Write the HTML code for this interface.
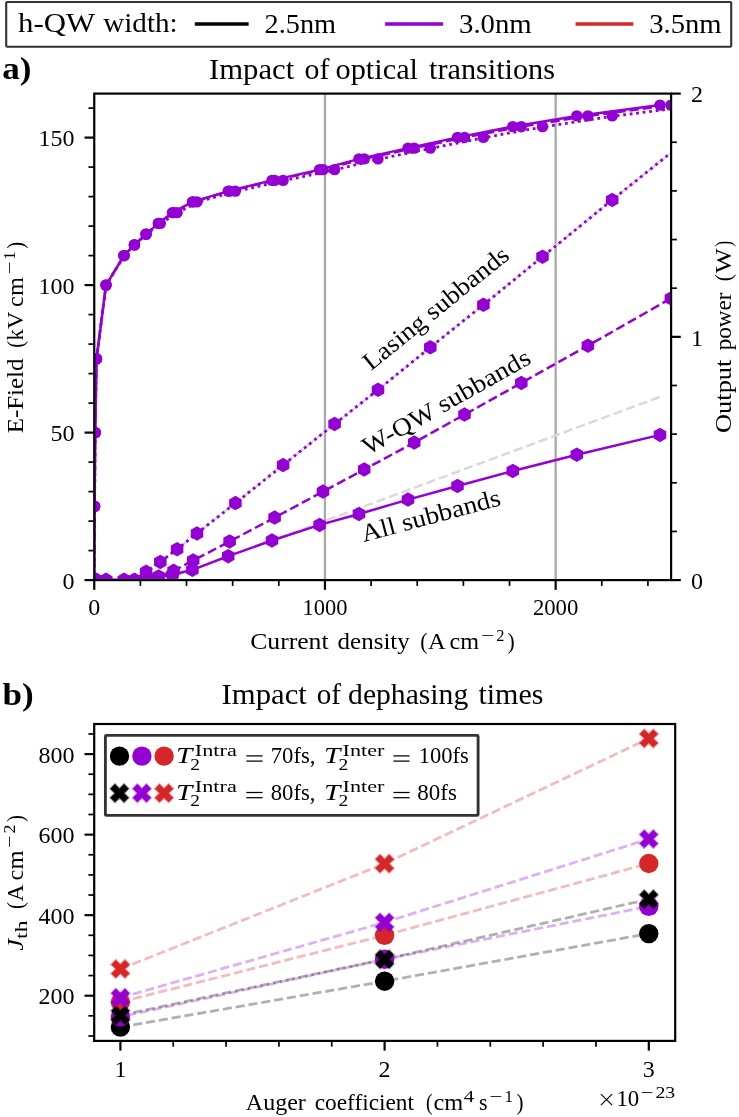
<!DOCTYPE html>
<html><head><meta charset="utf-8"><title>chart</title>
<style>html,body{margin:0;padding:0;background:#fff;}svg{display:block;will-change:transform;}</style></head>
<body>
<svg width="739" height="1117" viewBox="0 0 739 1117" font-family="Liberation Serif, serif" fill="#000">
<rect width="739" height="1117" fill="#fff"/>
<defs><clipPath id="ca"><rect x="94.25" y="93.6" width="576.85" height="486.5"/></clipPath>
</defs>
<rect x="6.2" y="2.0" width="725.0" height="44.8" rx="1" fill="#fff" stroke="#333" stroke-width="2.1"/>
<text x="18.0" y="31.6" font-size="27.5" font-style="normal" font-weight="normal" textLength="77.0" lengthAdjust="spacingAndGlyphs">h-QW</text>
<text x="103.3" y="31.6" font-size="27.5" font-style="normal" font-weight="normal" textLength="74.3" lengthAdjust="spacingAndGlyphs">width:</text>
<line x1="194.8" y1="24.1" x2="248.6" y2="24.1" stroke="#000" stroke-width="3.5"/>
<text x="264.6" y="32.8" font-size="26.5" font-style="normal" font-weight="normal" textLength="71.5" lengthAdjust="spacingAndGlyphs">2.5nm</text>
<line x1="385.1" y1="24.1" x2="443.1" y2="24.1" stroke="#9400d3" stroke-width="3.5"/>
<text x="459.0" y="32.8" font-size="26.5" font-style="normal" font-weight="normal" textLength="72.7" lengthAdjust="spacingAndGlyphs">3.0nm</text>
<line x1="575.6" y1="24.1" x2="633.4" y2="24.1" stroke="#d62728" stroke-width="3.5"/>
<text x="649.3" y="32.8" font-size="26.5" font-style="normal" font-weight="normal" textLength="72.3" lengthAdjust="spacingAndGlyphs">3.5nm</text>
<text x="2.2" y="78.9" font-size="31" font-style="normal" font-weight="bold" textLength="29.2" lengthAdjust="spacingAndGlyphs">a)</text>
<text x="2.6" y="705.0" font-size="31" font-style="normal" font-weight="bold" textLength="31.2" lengthAdjust="spacingAndGlyphs">b)</text>
<text x="209.0" y="78.6" font-size="28.5" font-style="normal" font-weight="normal" textLength="85.2" lengthAdjust="spacingAndGlyphs">Impact</text>
<text x="304.6" y="78.6" font-size="28.5" font-style="normal" font-weight="normal" textLength="24.9" lengthAdjust="spacingAndGlyphs">of</text>
<text x="335.6" y="78.6" font-size="28.5" font-style="normal" font-weight="normal" textLength="82.4" lengthAdjust="spacingAndGlyphs">optical</text>
<text x="429.0" y="78.6" font-size="28.5" font-style="normal" font-weight="normal" textLength="126.0" lengthAdjust="spacingAndGlyphs">transitions</text>
<text x="221.6" y="703.7" font-size="28.5" font-style="normal" font-weight="normal" textLength="85.2" lengthAdjust="spacingAndGlyphs">Impact</text>
<text x="316.8" y="703.7" font-size="28.5" font-style="normal" font-weight="normal" textLength="24.2" lengthAdjust="spacingAndGlyphs">of</text>
<text x="348.1" y="703.7" font-size="28.5" font-style="normal" font-weight="normal" textLength="120.1" lengthAdjust="spacingAndGlyphs">dephasing</text>
<text x="478.4" y="703.7" font-size="28.5" font-style="normal" font-weight="normal" textLength="65.0" lengthAdjust="spacingAndGlyphs">times</text>
<g clip-path="url(#ca)">
<line x1="324.95" y1="93.6" x2="324.95" y2="580.1" stroke="#a9a9a9" stroke-width="2.3"/>
<line x1="555.65" y1="93.6" x2="555.65" y2="580.1" stroke="#a9a9a9" stroke-width="2.3"/>
<line x1="164.5" y1="580.1" x2="660.8" y2="396.6" stroke="#d9d9d9" stroke-width="2.5" stroke-dasharray="9.3 4"/>
<polyline points="160.3,561.9 177.1,549.2 197.0,533.4 235.4,503.1 283.1,465.1 334.6,424.0 378.0,389.8 430.3,347.3 483.4,304.8 542.5,256.7 612.2,199.9 698.0,131.0" fill="none" stroke="#d9d9d9" stroke-width="2.5" stroke-dasharray="9.3 4" stroke-linejoin="round"/>
<polyline points="94.2,580.1 94.6,506.4 95.2,432.6 96.5,358.9 106.0,285.1 124.0,255.6 134.4,244.9 146.1,234.1 158.3,223.4 172.5,212.6 192.4,201.9 228.2,191.1 272.0,180.4 319.6,169.6 359.0,158.9 408.0,148.1 457.5,137.4 512.8,126.6 576.8,115.9 660.0,105.1" fill="none" stroke="#9400d3" stroke-width="2.5" stroke-linejoin="round"/>
<polyline points="94.2,580.1 94.6,506.4 95.2,432.6 96.5,358.9 106.0,285.1 124.0,255.6 134.4,244.9 146.1,234.1 158.6,223.4 173.6,212.6 193.2,201.9 229.6,191.1 274.6,180.4 323.0,169.6 364.2,158.9 414.2,148.1 464.5,137.4 521.3,126.6 587.9,115.9 670.9,105.1" fill="none" stroke="#9400d3" stroke-width="2.5" stroke-dasharray="9.3 4" stroke-linejoin="round"/>
<polyline points="94.2,580.5 94.6,506.8 95.2,433.0 96.5,359.2 106.0,285.5 124.0,256.0 134.4,245.3 146.1,234.5 160.3,223.8 177.1,213.0 197.0,202.3 235.4,191.5 283.1,180.8 334.6,170.0 378.0,159.3 430.3,148.5 483.4,137.8 542.5,127.0 612.2,116.3 698.0,105.5" fill="none" stroke="#9400d3" stroke-width="2.8" stroke-dasharray="2.8 3.74" stroke-linejoin="round"/>
<circle cx="94.2" cy="580.1" r="5.7" fill="#9400d3"/>
<circle cx="94.6" cy="506.4" r="5.7" fill="#9400d3"/>
<circle cx="95.2" cy="432.6" r="5.7" fill="#9400d3"/>
<circle cx="96.5" cy="358.9" r="5.7" fill="#9400d3"/>
<circle cx="106.0" cy="285.1" r="5.7" fill="#9400d3"/>
<circle cx="124.0" cy="255.6" r="5.7" fill="#9400d3"/>
<circle cx="134.4" cy="244.9" r="5.7" fill="#9400d3"/>
<circle cx="146.1" cy="234.1" r="5.7" fill="#9400d3"/>
<circle cx="158.3" cy="223.4" r="5.7" fill="#9400d3"/>
<circle cx="172.5" cy="212.6" r="5.7" fill="#9400d3"/>
<circle cx="192.4" cy="201.9" r="5.7" fill="#9400d3"/>
<circle cx="228.2" cy="191.1" r="5.7" fill="#9400d3"/>
<circle cx="272.0" cy="180.4" r="5.7" fill="#9400d3"/>
<circle cx="319.6" cy="169.6" r="5.7" fill="#9400d3"/>
<circle cx="359.0" cy="158.9" r="5.7" fill="#9400d3"/>
<circle cx="408.0" cy="148.1" r="5.7" fill="#9400d3"/>
<circle cx="457.5" cy="137.4" r="5.7" fill="#9400d3"/>
<circle cx="512.8" cy="126.6" r="5.7" fill="#9400d3"/>
<circle cx="576.8" cy="115.9" r="5.7" fill="#9400d3"/>
<circle cx="660.0" cy="105.1" r="5.7" fill="#9400d3"/>
<circle cx="94.2" cy="580.1" r="5.7" fill="#9400d3"/>
<circle cx="94.6" cy="506.4" r="5.7" fill="#9400d3"/>
<circle cx="95.2" cy="432.6" r="5.7" fill="#9400d3"/>
<circle cx="96.5" cy="358.9" r="5.7" fill="#9400d3"/>
<circle cx="106.0" cy="285.1" r="5.7" fill="#9400d3"/>
<circle cx="124.0" cy="255.6" r="5.7" fill="#9400d3"/>
<circle cx="134.4" cy="244.9" r="5.7" fill="#9400d3"/>
<circle cx="146.1" cy="234.1" r="5.7" fill="#9400d3"/>
<circle cx="158.6" cy="223.4" r="5.7" fill="#9400d3"/>
<circle cx="173.6" cy="212.6" r="5.7" fill="#9400d3"/>
<circle cx="193.2" cy="201.9" r="5.7" fill="#9400d3"/>
<circle cx="229.6" cy="191.1" r="5.7" fill="#9400d3"/>
<circle cx="274.6" cy="180.4" r="5.7" fill="#9400d3"/>
<circle cx="323.0" cy="169.6" r="5.7" fill="#9400d3"/>
<circle cx="364.2" cy="158.9" r="5.7" fill="#9400d3"/>
<circle cx="414.2" cy="148.1" r="5.7" fill="#9400d3"/>
<circle cx="464.5" cy="137.4" r="5.7" fill="#9400d3"/>
<circle cx="521.3" cy="126.6" r="5.7" fill="#9400d3"/>
<circle cx="587.9" cy="115.9" r="5.7" fill="#9400d3"/>
<circle cx="670.9" cy="105.1" r="5.7" fill="#9400d3"/>
<circle cx="94.2" cy="580.1" r="5.7" fill="#9400d3"/>
<circle cx="94.6" cy="506.4" r="5.7" fill="#9400d3"/>
<circle cx="95.2" cy="432.6" r="5.7" fill="#9400d3"/>
<circle cx="96.5" cy="358.9" r="5.7" fill="#9400d3"/>
<circle cx="106.0" cy="285.1" r="5.7" fill="#9400d3"/>
<circle cx="124.0" cy="255.6" r="5.7" fill="#9400d3"/>
<circle cx="134.4" cy="244.9" r="5.7" fill="#9400d3"/>
<circle cx="146.1" cy="234.1" r="5.7" fill="#9400d3"/>
<circle cx="160.3" cy="223.4" r="5.7" fill="#9400d3"/>
<circle cx="177.1" cy="212.6" r="5.7" fill="#9400d3"/>
<circle cx="197.0" cy="201.9" r="5.7" fill="#9400d3"/>
<circle cx="235.4" cy="191.1" r="5.7" fill="#9400d3"/>
<circle cx="283.1" cy="180.4" r="5.7" fill="#9400d3"/>
<circle cx="334.6" cy="169.6" r="5.7" fill="#9400d3"/>
<circle cx="378.0" cy="158.9" r="5.7" fill="#9400d3"/>
<circle cx="430.3" cy="148.1" r="5.7" fill="#9400d3"/>
<circle cx="483.4" cy="137.4" r="5.7" fill="#9400d3"/>
<circle cx="542.5" cy="126.6" r="5.7" fill="#9400d3"/>
<circle cx="612.2" cy="115.9" r="5.7" fill="#9400d3"/>
<circle cx="698.0" cy="105.1" r="5.7" fill="#9400d3"/>
<polyline points="94.2,580.1 94.6,580.1 95.2,580.1 96.5,580.1 106.0,580.1 124.0,580.1 134.4,580.1 146.1,580.1 158.3,577.3 172.5,574.6 192.4,569.8 228.2,556.2 272.0,540.5 319.6,524.9 359.0,514.0 408.0,499.6 457.5,486.0 512.8,471.0 576.8,454.7 660.0,434.9" fill="none" stroke="#9400d3" stroke-width="2.5" stroke-linejoin="round"/>
<polyline points="94.2,580.1 94.6,580.1 95.2,580.1 96.5,580.1 106.0,580.1 124.0,580.1 134.4,580.1 146.1,580.1 158.6,576.5 173.6,570.8 193.2,560.4 229.6,541.5 274.6,517.6 323.0,491.6 364.2,469.5 414.2,442.6 464.5,414.6 521.3,382.9 587.9,345.7 670.9,298.4" fill="none" stroke="#9400d3" stroke-width="2.5" stroke-dasharray="9.3 4" stroke-linejoin="round"/>
<polyline points="94.2,580.1 94.6,580.1 95.2,580.1 96.5,580.1 106.0,580.1 124.0,580.1 134.4,580.1 146.1,571.8 160.3,561.9 177.1,549.2 197.0,533.4 235.4,503.1 283.1,465.1 334.6,424.0 378.0,389.8 430.3,347.3 483.4,304.8 542.5,256.7 612.2,199.9 698.0,131.0" fill="none" stroke="#9400d3" stroke-width="2.8" stroke-dasharray="2.8 3.74" stroke-linejoin="round"/>
<polygon transform="translate(94.2,580.1)" points="0.00,-7.25 6.28,-3.63 6.28,3.62 0.00,7.25 -6.28,3.63 -6.28,-3.63" fill="#9400d3"/>
<polygon transform="translate(94.6,580.1)" points="0.00,-7.25 6.28,-3.63 6.28,3.62 0.00,7.25 -6.28,3.63 -6.28,-3.63" fill="#9400d3"/>
<polygon transform="translate(95.2,580.1)" points="0.00,-7.25 6.28,-3.63 6.28,3.62 0.00,7.25 -6.28,3.63 -6.28,-3.63" fill="#9400d3"/>
<polygon transform="translate(96.5,580.1)" points="0.00,-7.25 6.28,-3.63 6.28,3.62 0.00,7.25 -6.28,3.63 -6.28,-3.63" fill="#9400d3"/>
<polygon transform="translate(106.0,580.1)" points="0.00,-7.25 6.28,-3.63 6.28,3.62 0.00,7.25 -6.28,3.63 -6.28,-3.63" fill="#9400d3"/>
<polygon transform="translate(124.0,580.1)" points="0.00,-7.25 6.28,-3.63 6.28,3.62 0.00,7.25 -6.28,3.63 -6.28,-3.63" fill="#9400d3"/>
<polygon transform="translate(134.4,580.1)" points="0.00,-7.25 6.28,-3.63 6.28,3.62 0.00,7.25 -6.28,3.63 -6.28,-3.63" fill="#9400d3"/>
<polygon transform="translate(146.1,580.1)" points="0.00,-7.25 6.28,-3.63 6.28,3.62 0.00,7.25 -6.28,3.63 -6.28,-3.63" fill="#9400d3"/>
<polygon transform="translate(158.3,577.3)" points="0.00,-7.25 6.28,-3.63 6.28,3.62 0.00,7.25 -6.28,3.63 -6.28,-3.63" fill="#9400d3"/>
<polygon transform="translate(172.5,574.6)" points="0.00,-7.25 6.28,-3.63 6.28,3.62 0.00,7.25 -6.28,3.63 -6.28,-3.63" fill="#9400d3"/>
<polygon transform="translate(192.4,569.8)" points="0.00,-7.25 6.28,-3.63 6.28,3.62 0.00,7.25 -6.28,3.63 -6.28,-3.63" fill="#9400d3"/>
<polygon transform="translate(228.2,556.2)" points="0.00,-7.25 6.28,-3.63 6.28,3.62 0.00,7.25 -6.28,3.63 -6.28,-3.63" fill="#9400d3"/>
<polygon transform="translate(272.0,540.5)" points="0.00,-7.25 6.28,-3.63 6.28,3.62 0.00,7.25 -6.28,3.63 -6.28,-3.63" fill="#9400d3"/>
<polygon transform="translate(319.6,524.9)" points="0.00,-7.25 6.28,-3.63 6.28,3.62 0.00,7.25 -6.28,3.63 -6.28,-3.63" fill="#9400d3"/>
<polygon transform="translate(359.0,514.0)" points="0.00,-7.25 6.28,-3.63 6.28,3.62 0.00,7.25 -6.28,3.63 -6.28,-3.63" fill="#9400d3"/>
<polygon transform="translate(408.0,499.6)" points="0.00,-7.25 6.28,-3.63 6.28,3.62 0.00,7.25 -6.28,3.63 -6.28,-3.63" fill="#9400d3"/>
<polygon transform="translate(457.5,486.0)" points="0.00,-7.25 6.28,-3.63 6.28,3.62 0.00,7.25 -6.28,3.63 -6.28,-3.63" fill="#9400d3"/>
<polygon transform="translate(512.8,471.0)" points="0.00,-7.25 6.28,-3.63 6.28,3.62 0.00,7.25 -6.28,3.63 -6.28,-3.63" fill="#9400d3"/>
<polygon transform="translate(576.8,454.7)" points="0.00,-7.25 6.28,-3.63 6.28,3.62 0.00,7.25 -6.28,3.63 -6.28,-3.63" fill="#9400d3"/>
<polygon transform="translate(660.0,434.9)" points="0.00,-7.25 6.28,-3.63 6.28,3.62 0.00,7.25 -6.28,3.63 -6.28,-3.63" fill="#9400d3"/>
<polygon transform="translate(94.2,580.1)" points="0.00,-7.25 6.28,-3.63 6.28,3.62 0.00,7.25 -6.28,3.63 -6.28,-3.63" fill="#9400d3"/>
<polygon transform="translate(94.6,580.1)" points="0.00,-7.25 6.28,-3.63 6.28,3.62 0.00,7.25 -6.28,3.63 -6.28,-3.63" fill="#9400d3"/>
<polygon transform="translate(95.2,580.1)" points="0.00,-7.25 6.28,-3.63 6.28,3.62 0.00,7.25 -6.28,3.63 -6.28,-3.63" fill="#9400d3"/>
<polygon transform="translate(96.5,580.1)" points="0.00,-7.25 6.28,-3.63 6.28,3.62 0.00,7.25 -6.28,3.63 -6.28,-3.63" fill="#9400d3"/>
<polygon transform="translate(106.0,580.1)" points="0.00,-7.25 6.28,-3.63 6.28,3.62 0.00,7.25 -6.28,3.63 -6.28,-3.63" fill="#9400d3"/>
<polygon transform="translate(124.0,580.1)" points="0.00,-7.25 6.28,-3.63 6.28,3.62 0.00,7.25 -6.28,3.63 -6.28,-3.63" fill="#9400d3"/>
<polygon transform="translate(134.4,580.1)" points="0.00,-7.25 6.28,-3.63 6.28,3.62 0.00,7.25 -6.28,3.63 -6.28,-3.63" fill="#9400d3"/>
<polygon transform="translate(146.1,580.1)" points="0.00,-7.25 6.28,-3.63 6.28,3.62 0.00,7.25 -6.28,3.63 -6.28,-3.63" fill="#9400d3"/>
<polygon transform="translate(158.6,576.5)" points="0.00,-7.25 6.28,-3.63 6.28,3.62 0.00,7.25 -6.28,3.63 -6.28,-3.63" fill="#9400d3"/>
<polygon transform="translate(173.6,570.8)" points="0.00,-7.25 6.28,-3.63 6.28,3.62 0.00,7.25 -6.28,3.63 -6.28,-3.63" fill="#9400d3"/>
<polygon transform="translate(193.2,560.4)" points="0.00,-7.25 6.28,-3.63 6.28,3.62 0.00,7.25 -6.28,3.63 -6.28,-3.63" fill="#9400d3"/>
<polygon transform="translate(229.6,541.5)" points="0.00,-7.25 6.28,-3.63 6.28,3.62 0.00,7.25 -6.28,3.63 -6.28,-3.63" fill="#9400d3"/>
<polygon transform="translate(274.6,517.6)" points="0.00,-7.25 6.28,-3.63 6.28,3.62 0.00,7.25 -6.28,3.63 -6.28,-3.63" fill="#9400d3"/>
<polygon transform="translate(323.0,491.6)" points="0.00,-7.25 6.28,-3.63 6.28,3.62 0.00,7.25 -6.28,3.63 -6.28,-3.63" fill="#9400d3"/>
<polygon transform="translate(364.2,469.5)" points="0.00,-7.25 6.28,-3.63 6.28,3.62 0.00,7.25 -6.28,3.63 -6.28,-3.63" fill="#9400d3"/>
<polygon transform="translate(414.2,442.6)" points="0.00,-7.25 6.28,-3.63 6.28,3.62 0.00,7.25 -6.28,3.63 -6.28,-3.63" fill="#9400d3"/>
<polygon transform="translate(464.5,414.6)" points="0.00,-7.25 6.28,-3.63 6.28,3.62 0.00,7.25 -6.28,3.63 -6.28,-3.63" fill="#9400d3"/>
<polygon transform="translate(521.3,382.9)" points="0.00,-7.25 6.28,-3.63 6.28,3.62 0.00,7.25 -6.28,3.63 -6.28,-3.63" fill="#9400d3"/>
<polygon transform="translate(587.9,345.7)" points="0.00,-7.25 6.28,-3.63 6.28,3.62 0.00,7.25 -6.28,3.63 -6.28,-3.63" fill="#9400d3"/>
<polygon transform="translate(670.9,298.4)" points="0.00,-7.25 6.28,-3.63 6.28,3.62 0.00,7.25 -6.28,3.63 -6.28,-3.63" fill="#9400d3"/>
<polygon transform="translate(94.2,580.1)" points="0.00,-7.25 6.28,-3.63 6.28,3.62 0.00,7.25 -6.28,3.63 -6.28,-3.63" fill="#9400d3"/>
<polygon transform="translate(94.6,580.1)" points="0.00,-7.25 6.28,-3.63 6.28,3.62 0.00,7.25 -6.28,3.63 -6.28,-3.63" fill="#9400d3"/>
<polygon transform="translate(95.2,580.1)" points="0.00,-7.25 6.28,-3.63 6.28,3.62 0.00,7.25 -6.28,3.63 -6.28,-3.63" fill="#9400d3"/>
<polygon transform="translate(96.5,580.1)" points="0.00,-7.25 6.28,-3.63 6.28,3.62 0.00,7.25 -6.28,3.63 -6.28,-3.63" fill="#9400d3"/>
<polygon transform="translate(106.0,580.1)" points="0.00,-7.25 6.28,-3.63 6.28,3.62 0.00,7.25 -6.28,3.63 -6.28,-3.63" fill="#9400d3"/>
<polygon transform="translate(124.0,580.1)" points="0.00,-7.25 6.28,-3.63 6.28,3.62 0.00,7.25 -6.28,3.63 -6.28,-3.63" fill="#9400d3"/>
<polygon transform="translate(134.4,580.1)" points="0.00,-7.25 6.28,-3.63 6.28,3.62 0.00,7.25 -6.28,3.63 -6.28,-3.63" fill="#9400d3"/>
<polygon transform="translate(146.1,571.8)" points="0.00,-7.25 6.28,-3.63 6.28,3.62 0.00,7.25 -6.28,3.63 -6.28,-3.63" fill="#9400d3"/>
<polygon transform="translate(160.3,561.9)" points="0.00,-7.25 6.28,-3.63 6.28,3.62 0.00,7.25 -6.28,3.63 -6.28,-3.63" fill="#9400d3"/>
<polygon transform="translate(177.1,549.2)" points="0.00,-7.25 6.28,-3.63 6.28,3.62 0.00,7.25 -6.28,3.63 -6.28,-3.63" fill="#9400d3"/>
<polygon transform="translate(197.0,533.4)" points="0.00,-7.25 6.28,-3.63 6.28,3.62 0.00,7.25 -6.28,3.63 -6.28,-3.63" fill="#9400d3"/>
<polygon transform="translate(235.4,503.1)" points="0.00,-7.25 6.28,-3.63 6.28,3.62 0.00,7.25 -6.28,3.63 -6.28,-3.63" fill="#9400d3"/>
<polygon transform="translate(283.1,465.1)" points="0.00,-7.25 6.28,-3.63 6.28,3.62 0.00,7.25 -6.28,3.63 -6.28,-3.63" fill="#9400d3"/>
<polygon transform="translate(334.6,424.0)" points="0.00,-7.25 6.28,-3.63 6.28,3.62 0.00,7.25 -6.28,3.63 -6.28,-3.63" fill="#9400d3"/>
<polygon transform="translate(378.0,389.8)" points="0.00,-7.25 6.28,-3.63 6.28,3.62 0.00,7.25 -6.28,3.63 -6.28,-3.63" fill="#9400d3"/>
<polygon transform="translate(430.3,347.3)" points="0.00,-7.25 6.28,-3.63 6.28,3.62 0.00,7.25 -6.28,3.63 -6.28,-3.63" fill="#9400d3"/>
<polygon transform="translate(483.4,304.8)" points="0.00,-7.25 6.28,-3.63 6.28,3.62 0.00,7.25 -6.28,3.63 -6.28,-3.63" fill="#9400d3"/>
<polygon transform="translate(542.5,256.7)" points="0.00,-7.25 6.28,-3.63 6.28,3.62 0.00,7.25 -6.28,3.63 -6.28,-3.63" fill="#9400d3"/>
<polygon transform="translate(612.2,199.9)" points="0.00,-7.25 6.28,-3.63 6.28,3.62 0.00,7.25 -6.28,3.63 -6.28,-3.63" fill="#9400d3"/>
<polygon transform="translate(698.0,131.0)" points="0.00,-7.25 6.28,-3.63 6.28,3.62 0.00,7.25 -6.28,3.63 -6.28,-3.63" fill="#9400d3"/>
</g>
<text transform="translate(371.1,371.3) rotate(-39.1)" font-size="25" textLength="180.0" lengthAdjust="spacingAndGlyphs">Lasing subbands</text>
<text transform="translate(368.0,455.6) rotate(-29.5)" font-size="25" textLength="189.0" lengthAdjust="spacingAndGlyphs">W-QW subbands</text>
<text transform="translate(363.8,542.0) rotate(-15.0)" font-size="25" textLength="143.0" lengthAdjust="spacingAndGlyphs">All subbands</text>
<rect x="94.25" y="93.6" width="576.85" height="486.5" fill="none" stroke="#000" stroke-width="2.2"/>
<line x1="84.55" y1="580.10" x2="94.25" y2="580.10" stroke="#000" stroke-width="2.2"/>
<line x1="88.45" y1="550.60" x2="94.25" y2="550.60" stroke="#000" stroke-width="1.7"/>
<line x1="88.45" y1="521.10" x2="94.25" y2="521.10" stroke="#000" stroke-width="1.7"/>
<line x1="88.45" y1="491.60" x2="94.25" y2="491.60" stroke="#000" stroke-width="1.7"/>
<line x1="88.45" y1="462.10" x2="94.25" y2="462.10" stroke="#000" stroke-width="1.7"/>
<line x1="84.55" y1="432.60" x2="94.25" y2="432.60" stroke="#000" stroke-width="2.2"/>
<line x1="88.45" y1="403.10" x2="94.25" y2="403.10" stroke="#000" stroke-width="1.7"/>
<line x1="88.45" y1="373.60" x2="94.25" y2="373.60" stroke="#000" stroke-width="1.7"/>
<line x1="88.45" y1="344.10" x2="94.25" y2="344.10" stroke="#000" stroke-width="1.7"/>
<line x1="88.45" y1="314.60" x2="94.25" y2="314.60" stroke="#000" stroke-width="1.7"/>
<line x1="84.55" y1="285.10" x2="94.25" y2="285.10" stroke="#000" stroke-width="2.2"/>
<line x1="88.45" y1="255.60" x2="94.25" y2="255.60" stroke="#000" stroke-width="1.7"/>
<line x1="88.45" y1="226.10" x2="94.25" y2="226.10" stroke="#000" stroke-width="1.7"/>
<line x1="88.45" y1="196.60" x2="94.25" y2="196.60" stroke="#000" stroke-width="1.7"/>
<line x1="88.45" y1="167.10" x2="94.25" y2="167.10" stroke="#000" stroke-width="1.7"/>
<line x1="84.55" y1="137.60" x2="94.25" y2="137.60" stroke="#000" stroke-width="2.2"/>
<line x1="88.45" y1="108.10" x2="94.25" y2="108.10" stroke="#000" stroke-width="1.7"/>
<line x1="671.10" y1="580.10" x2="680.80" y2="580.10" stroke="#000" stroke-width="2.2"/>
<line x1="671.10" y1="531.45" x2="676.90" y2="531.45" stroke="#000" stroke-width="1.7"/>
<line x1="671.10" y1="482.80" x2="676.90" y2="482.80" stroke="#000" stroke-width="1.7"/>
<line x1="671.10" y1="434.15" x2="676.90" y2="434.15" stroke="#000" stroke-width="1.7"/>
<line x1="671.10" y1="385.50" x2="676.90" y2="385.50" stroke="#000" stroke-width="1.7"/>
<line x1="671.10" y1="336.85" x2="680.80" y2="336.85" stroke="#000" stroke-width="2.2"/>
<line x1="671.10" y1="288.20" x2="676.90" y2="288.20" stroke="#000" stroke-width="1.7"/>
<line x1="671.10" y1="239.55" x2="676.90" y2="239.55" stroke="#000" stroke-width="1.7"/>
<line x1="671.10" y1="190.90" x2="676.90" y2="190.90" stroke="#000" stroke-width="1.7"/>
<line x1="671.10" y1="142.25" x2="676.90" y2="142.25" stroke="#000" stroke-width="1.7"/>
<line x1="671.10" y1="93.60" x2="680.80" y2="93.60" stroke="#000" stroke-width="2.2"/>
<line x1="94.25" y1="580.10" x2="94.25" y2="589.80" stroke="#000" stroke-width="2.2"/>
<line x1="140.39" y1="580.10" x2="140.39" y2="585.90" stroke="#000" stroke-width="1.7"/>
<line x1="186.53" y1="580.10" x2="186.53" y2="585.90" stroke="#000" stroke-width="1.7"/>
<line x1="232.67" y1="580.10" x2="232.67" y2="585.90" stroke="#000" stroke-width="1.7"/>
<line x1="278.81" y1="580.10" x2="278.81" y2="585.90" stroke="#000" stroke-width="1.7"/>
<line x1="324.95" y1="580.10" x2="324.95" y2="589.80" stroke="#000" stroke-width="2.2"/>
<line x1="371.09" y1="580.10" x2="371.09" y2="585.90" stroke="#000" stroke-width="1.7"/>
<line x1="417.23" y1="580.10" x2="417.23" y2="585.90" stroke="#000" stroke-width="1.7"/>
<line x1="463.37" y1="580.10" x2="463.37" y2="585.90" stroke="#000" stroke-width="1.7"/>
<line x1="509.51" y1="580.10" x2="509.51" y2="585.90" stroke="#000" stroke-width="1.7"/>
<line x1="555.65" y1="580.10" x2="555.65" y2="589.80" stroke="#000" stroke-width="2.2"/>
<line x1="601.79" y1="580.10" x2="601.79" y2="585.90" stroke="#000" stroke-width="1.7"/>
<line x1="647.93" y1="580.10" x2="647.93" y2="585.90" stroke="#000" stroke-width="1.7"/>
<text x="74.6" y="588.7" font-size="24" text-anchor="end" font-weight="normal" font-style="normal" >0</text>
<text x="74.6" y="441.2" font-size="24" text-anchor="end" font-weight="normal" font-style="normal" >50</text>
<text x="74.6" y="293.7" font-size="24" text-anchor="end" font-weight="normal" font-style="normal" >100</text>
<text x="74.6" y="146.2" font-size="24" text-anchor="end" font-weight="normal" font-style="normal" >150</text>
<text x="691.0" y="588.7" font-size="24" text-anchor="start" font-weight="normal" font-style="normal" >0</text>
<text x="691.0" y="345.5" font-size="24" text-anchor="start" font-weight="normal" font-style="normal" >1</text>
<text x="691.0" y="102.2" font-size="24" text-anchor="start" font-weight="normal" font-style="normal" >2</text>
<text x="94.2" y="615.4" font-size="24" text-anchor="middle" font-weight="normal" font-style="normal" >0</text>
<text x="324.9" y="615.4" font-size="24" text-anchor="middle" font-weight="normal" font-style="normal" textLength="45.0" lengthAdjust="spacingAndGlyphs" >1000</text>
<text x="555.6" y="615.4" font-size="24" text-anchor="middle" font-weight="normal" font-style="normal" textLength="45.4" lengthAdjust="spacingAndGlyphs" >2000</text>
<text x="250.2" y="648.9" font-size="24" font-style="normal" font-weight="normal" textLength="78.4" lengthAdjust="spacingAndGlyphs">Current</text>
<text x="337.6" y="648.9" font-size="24" font-style="normal" font-weight="normal" textLength="72.2" lengthAdjust="spacingAndGlyphs">density</text>
<text x="420.2" y="648.9" font-size="24" font-style="normal" font-weight="normal" textLength="7.3" lengthAdjust="spacingAndGlyphs">(</text>
<text x="428.0" y="648.9" font-size="24" font-style="normal" font-weight="normal" textLength="17.8" lengthAdjust="spacingAndGlyphs">A</text>
<text x="449.6" y="648.9" font-size="24" font-style="normal" font-weight="normal" textLength="29.6" lengthAdjust="spacingAndGlyphs">cm</text>
<text x="481.0" y="641.3" font-size="17" font-style="normal" font-weight="normal" textLength="13.2" lengthAdjust="spacingAndGlyphs">&#8722;</text>
<text x="496.2" y="641.3" font-size="17" font-style="normal" font-weight="normal" textLength="8.2" lengthAdjust="spacingAndGlyphs">2</text>
<text x="507.4" y="648.9" font-size="24" font-style="normal" font-weight="normal" textLength="7.2" lengthAdjust="spacingAndGlyphs">)</text>
<text transform="translate(22.8,433.2) rotate(-90)" font-size="24" font-style="normal" textLength="74.6" lengthAdjust="spacingAndGlyphs">E-Field</text>
<text transform="translate(22.8,347.8) rotate(-90)" font-size="24" font-style="normal" textLength="6.8" lengthAdjust="spacingAndGlyphs">(</text>
<text transform="translate(22.8,340.6) rotate(-90)" font-size="24" font-style="normal" textLength="11.2" lengthAdjust="spacingAndGlyphs">k</text>
<text transform="translate(22.8,328.9) rotate(-90)" font-size="24" font-style="normal" textLength="17.4" lengthAdjust="spacingAndGlyphs">V</text>
<text transform="translate(22.8,306.9) rotate(-90)" font-size="24" font-style="normal" textLength="29.7" lengthAdjust="spacingAndGlyphs">cm</text>
<text transform="translate(14.8,274.6) rotate(-90)" font-size="17" font-style="normal" textLength="13.1" lengthAdjust="spacingAndGlyphs">&#8722;</text>
<text transform="translate(14.8,259.9) rotate(-90)" font-size="17" font-style="normal" textLength="8.7" lengthAdjust="spacingAndGlyphs">1</text>
<text transform="translate(22.8,248.8) rotate(-90)" font-size="24" font-style="normal" textLength="6.8" lengthAdjust="spacingAndGlyphs">)</text>
<text transform="translate(730.6,433.0) rotate(-90)" font-size="24" font-style="normal" textLength="73.4" lengthAdjust="spacingAndGlyphs">Output</text>
<text transform="translate(730.6,350.3) rotate(-90)" font-size="24" font-style="normal" textLength="57.7" lengthAdjust="spacingAndGlyphs">power</text>
<text transform="translate(730.6,281.3) rotate(-90)" font-size="24" font-style="normal" textLength="7.2" lengthAdjust="spacingAndGlyphs">(</text>
<text transform="translate(730.6,273.3) rotate(-90)" font-size="24" font-style="normal" textLength="24.9" lengthAdjust="spacingAndGlyphs">W</text>
<text transform="translate(730.6,246.8) rotate(-90)" font-size="24" font-style="normal" textLength="5.9" lengthAdjust="spacingAndGlyphs">)</text>
<rect x="94.2" y="724.0" width="581.0" height="316.9000000000001" fill="none" stroke="#000" stroke-width="2.2"/>
<line x1="88.40" y1="1035.97" x2="94.20" y2="1035.97" stroke="#000" stroke-width="1.7"/>
<line x1="88.40" y1="1015.83" x2="94.20" y2="1015.83" stroke="#000" stroke-width="1.7"/>
<line x1="84.50" y1="995.70" x2="94.20" y2="995.70" stroke="#000" stroke-width="2.2"/>
<line x1="88.40" y1="975.57" x2="94.20" y2="975.57" stroke="#000" stroke-width="1.7"/>
<line x1="88.40" y1="955.43" x2="94.20" y2="955.43" stroke="#000" stroke-width="1.7"/>
<line x1="88.40" y1="935.30" x2="94.20" y2="935.30" stroke="#000" stroke-width="1.7"/>
<line x1="84.50" y1="915.17" x2="94.20" y2="915.17" stroke="#000" stroke-width="2.2"/>
<line x1="88.40" y1="895.03" x2="94.20" y2="895.03" stroke="#000" stroke-width="1.7"/>
<line x1="88.40" y1="874.90" x2="94.20" y2="874.90" stroke="#000" stroke-width="1.7"/>
<line x1="88.40" y1="854.77" x2="94.20" y2="854.77" stroke="#000" stroke-width="1.7"/>
<line x1="84.50" y1="834.63" x2="94.20" y2="834.63" stroke="#000" stroke-width="2.2"/>
<line x1="88.40" y1="814.50" x2="94.20" y2="814.50" stroke="#000" stroke-width="1.7"/>
<line x1="88.40" y1="794.37" x2="94.20" y2="794.37" stroke="#000" stroke-width="1.7"/>
<line x1="88.40" y1="774.23" x2="94.20" y2="774.23" stroke="#000" stroke-width="1.7"/>
<line x1="84.50" y1="754.10" x2="94.20" y2="754.10" stroke="#000" stroke-width="2.2"/>
<line x1="88.40" y1="733.96" x2="94.20" y2="733.96" stroke="#000" stroke-width="1.7"/>
<line x1="120.40" y1="1040.90" x2="120.40" y2="1050.60" stroke="#000" stroke-width="2.2"/>
<line x1="173.24" y1="1040.90" x2="173.24" y2="1046.70" stroke="#000" stroke-width="1.7"/>
<line x1="226.08" y1="1040.90" x2="226.08" y2="1046.70" stroke="#000" stroke-width="1.7"/>
<line x1="278.92" y1="1040.90" x2="278.92" y2="1046.70" stroke="#000" stroke-width="1.7"/>
<line x1="331.76" y1="1040.90" x2="331.76" y2="1046.70" stroke="#000" stroke-width="1.7"/>
<line x1="384.60" y1="1040.90" x2="384.60" y2="1050.60" stroke="#000" stroke-width="2.2"/>
<line x1="437.44" y1="1040.90" x2="437.44" y2="1046.70" stroke="#000" stroke-width="1.7"/>
<line x1="490.28" y1="1040.90" x2="490.28" y2="1046.70" stroke="#000" stroke-width="1.7"/>
<line x1="543.12" y1="1040.90" x2="543.12" y2="1046.70" stroke="#000" stroke-width="1.7"/>
<line x1="595.96" y1="1040.90" x2="595.96" y2="1046.70" stroke="#000" stroke-width="1.7"/>
<line x1="648.80" y1="1040.90" x2="648.80" y2="1050.60" stroke="#000" stroke-width="2.2"/>
<text x="74.6" y="1004.3" font-size="24" text-anchor="end" font-weight="normal" font-style="normal" >200</text>
<text x="74.6" y="923.8" font-size="24" text-anchor="end" font-weight="normal" font-style="normal" >400</text>
<text x="74.6" y="843.2" font-size="24" text-anchor="end" font-weight="normal" font-style="normal" >600</text>
<text x="74.6" y="762.7" font-size="24" text-anchor="end" font-weight="normal" font-style="normal" >800</text>
<text x="120.4" y="1076.7" font-size="24" text-anchor="middle" font-weight="normal" font-style="normal" >1</text>
<text x="384.6" y="1076.7" font-size="24" text-anchor="middle" font-weight="normal" font-style="normal" >2</text>
<text x="648.8" y="1076.7" font-size="24" text-anchor="middle" font-weight="normal" font-style="normal" >3</text>
<polyline points="120.4,1027.1 384.6,981.2 648.8,933.6" fill="none" stroke="#000" stroke-width="2.8" stroke-dasharray="9.1 3.9" stroke-opacity="0.31" stroke-linejoin="round"/>
<polyline points="120.4,1016.9 384.6,959.3 648.8,906.4" fill="none" stroke="#9400d3" stroke-width="2.8" stroke-dasharray="9.1 3.9" stroke-dashoffset="6" stroke-opacity="0.31" stroke-linejoin="round"/>
<polyline points="120.4,1002.0 384.6,935.3 648.8,863.5" fill="none" stroke="#d62728" stroke-width="2.8" stroke-dasharray="9.1 3.9" stroke-opacity="0.31" stroke-linejoin="round"/>
<polyline points="120.4,1015.3 384.6,959.3 648.8,899.2" fill="none" stroke="#000" stroke-width="2.8" stroke-dasharray="9.1 3.9" stroke-opacity="0.31" stroke-linejoin="round"/>
<polyline points="120.4,997.7 384.6,922.4 648.8,839.0" fill="none" stroke="#9400d3" stroke-width="2.8" stroke-dasharray="9.1 3.9" stroke-opacity="0.31" stroke-linejoin="round"/>
<polyline points="120.4,969.0 384.6,863.7 648.8,738.5" fill="none" stroke="#d62728" stroke-width="2.8" stroke-dasharray="9.1 3.9" stroke-opacity="0.31" stroke-linejoin="round"/>
<circle cx="120.4" cy="1027.1" r="9.7" fill="#000"/>
<circle cx="384.6" cy="981.2" r="9.7" fill="#000"/>
<circle cx="648.8" cy="933.6" r="9.7" fill="#000"/>
<circle cx="120.4" cy="1016.9" r="9.7" fill="#9400d3"/>
<circle cx="384.6" cy="959.3" r="9.7" fill="#9400d3"/>
<circle cx="648.8" cy="906.4" r="9.7" fill="#9400d3"/>
<circle cx="120.4" cy="1002.0" r="9.7" fill="#d62728"/>
<circle cx="384.6" cy="935.3" r="9.7" fill="#d62728"/>
<circle cx="648.8" cy="863.5" r="9.7" fill="#d62728"/>
<polygon transform="translate(120.4,1015.3)" points="-4.55,-9.10 0.00,-4.55 4.55,-9.10 9.10,-4.55 4.55,0.00 9.10,4.55 4.55,9.10 0.00,4.55 -4.55,9.10 -9.10,4.55 -4.55,0.00 -9.10,-4.55" fill="#000" stroke="#000" stroke-opacity="0.4" stroke-width="2.0"/>
<polygon transform="translate(384.6,959.3)" points="-4.55,-9.10 0.00,-4.55 4.55,-9.10 9.10,-4.55 4.55,0.00 9.10,4.55 4.55,9.10 0.00,4.55 -4.55,9.10 -9.10,4.55 -4.55,0.00 -9.10,-4.55" fill="#000" stroke="#000" stroke-opacity="0.4" stroke-width="2.0"/>
<polygon transform="translate(648.8,899.2)" points="-4.55,-9.10 0.00,-4.55 4.55,-9.10 9.10,-4.55 4.55,0.00 9.10,4.55 4.55,9.10 0.00,4.55 -4.55,9.10 -9.10,4.55 -4.55,0.00 -9.10,-4.55" fill="#000" stroke="#000" stroke-opacity="0.4" stroke-width="2.0"/>
<polygon transform="translate(120.4,997.7)" points="-4.55,-9.10 0.00,-4.55 4.55,-9.10 9.10,-4.55 4.55,0.00 9.10,4.55 4.55,9.10 0.00,4.55 -4.55,9.10 -9.10,4.55 -4.55,0.00 -9.10,-4.55" fill="#9400d3" stroke="#9400d3" stroke-opacity="0.4" stroke-width="2.0"/>
<polygon transform="translate(384.6,922.4)" points="-4.55,-9.10 0.00,-4.55 4.55,-9.10 9.10,-4.55 4.55,0.00 9.10,4.55 4.55,9.10 0.00,4.55 -4.55,9.10 -9.10,4.55 -4.55,0.00 -9.10,-4.55" fill="#9400d3" stroke="#9400d3" stroke-opacity="0.4" stroke-width="2.0"/>
<polygon transform="translate(648.8,839.0)" points="-4.55,-9.10 0.00,-4.55 4.55,-9.10 9.10,-4.55 4.55,0.00 9.10,4.55 4.55,9.10 0.00,4.55 -4.55,9.10 -9.10,4.55 -4.55,0.00 -9.10,-4.55" fill="#9400d3" stroke="#9400d3" stroke-opacity="0.4" stroke-width="2.0"/>
<polygon transform="translate(120.4,969.0)" points="-4.55,-9.10 0.00,-4.55 4.55,-9.10 9.10,-4.55 4.55,0.00 9.10,4.55 4.55,9.10 0.00,4.55 -4.55,9.10 -9.10,4.55 -4.55,0.00 -9.10,-4.55" fill="#d62728" stroke="#d62728" stroke-opacity="0.4" stroke-width="2.0"/>
<polygon transform="translate(384.6,863.7)" points="-4.55,-9.10 0.00,-4.55 4.55,-9.10 9.10,-4.55 4.55,0.00 9.10,4.55 4.55,9.10 0.00,4.55 -4.55,9.10 -9.10,4.55 -4.55,0.00 -9.10,-4.55" fill="#d62728" stroke="#d62728" stroke-opacity="0.4" stroke-width="2.0"/>
<polygon transform="translate(648.8,738.5)" points="-4.55,-9.10 0.00,-4.55 4.55,-9.10 9.10,-4.55 4.55,0.00 9.10,4.55 4.55,9.10 0.00,4.55 -4.55,9.10 -9.10,4.55 -4.55,0.00 -9.10,-4.55" fill="#d62728" stroke="#d62728" stroke-opacity="0.4" stroke-width="2.0"/>
<rect x="105.4" y="735.4" width="372.7" height="80.0" rx="1" fill="#fff" stroke="#333" stroke-width="2.85"/>
<circle cx="119.5" cy="756.1" r="9.7" fill="#000"/>
<circle cx="141.9" cy="756.1" r="9.7" fill="#9400d3"/>
<circle cx="164.1" cy="756.1" r="9.7" fill="#d62728"/>
<polygon transform="translate(119.5,793.2)" points="-4.55,-9.10 0.00,-4.55 4.55,-9.10 9.10,-4.55 4.55,0.00 9.10,4.55 4.55,9.10 0.00,4.55 -4.55,9.10 -9.10,4.55 -4.55,0.00 -9.10,-4.55" fill="#000" stroke="#000" stroke-opacity="0.4" stroke-width="2.0"/>
<polygon transform="translate(141.9,793.2)" points="-4.55,-9.10 0.00,-4.55 4.55,-9.10 9.10,-4.55 4.55,0.00 9.10,4.55 4.55,9.10 0.00,4.55 -4.55,9.10 -9.10,4.55 -4.55,0.00 -9.10,-4.55" fill="#9400d3" stroke="#9400d3" stroke-opacity="0.4" stroke-width="2.0"/>
<polygon transform="translate(164.1,793.2)" points="-4.55,-9.10 0.00,-4.55 4.55,-9.10 9.10,-4.55 4.55,0.00 9.10,4.55 4.55,9.10 0.00,4.55 -4.55,9.10 -9.10,4.55 -4.55,0.00 -9.10,-4.55" fill="#d62728" stroke="#d62728" stroke-opacity="0.4" stroke-width="2.0"/>
<text x="176.1" y="763.4" font-size="24" font-style="italic" font-weight="normal" textLength="16.3" lengthAdjust="spacingAndGlyphs">T</text>
<text x="190.3" y="769.6" font-size="17.5" font-style="normal" font-weight="normal" textLength="9.7" lengthAdjust="spacingAndGlyphs">2</text>
<text x="194.8" y="755.8" font-size="17.5" font-style="normal" font-weight="normal" textLength="42.0" lengthAdjust="spacingAndGlyphs">Intra</text>
<line x1="246.3" y1="755.90" x2="262.6" y2="755.90" stroke="#000" stroke-width="1.25"/>
<line x1="246.3" y1="761.10" x2="262.6" y2="761.10" stroke="#000" stroke-width="1.25"/>
<text x="270.8" y="763.4" font-size="24" font-style="normal" font-weight="normal" textLength="44.6" lengthAdjust="spacingAndGlyphs">70fs,</text>
<text x="324.0" y="763.4" font-size="24" font-style="italic" font-weight="normal" textLength="16.3" lengthAdjust="spacingAndGlyphs">T</text>
<text x="338.4" y="769.6" font-size="17.5" font-style="normal" font-weight="normal" textLength="9.8" lengthAdjust="spacingAndGlyphs">2</text>
<text x="342.6" y="755.8" font-size="17.5" font-style="normal" font-weight="normal" textLength="41.8" lengthAdjust="spacingAndGlyphs">Inter</text>
<line x1="393.4" y1="755.90" x2="409.6" y2="755.90" stroke="#000" stroke-width="1.25"/>
<line x1="393.4" y1="761.10" x2="409.6" y2="761.10" stroke="#000" stroke-width="1.25"/>
<text x="418.8" y="763.4" font-size="24" font-style="normal" font-weight="normal" textLength="50.0" lengthAdjust="spacingAndGlyphs">100fs</text>
<text x="176.1" y="800.0" font-size="24" font-style="italic" font-weight="normal" textLength="16.3" lengthAdjust="spacingAndGlyphs">T</text>
<text x="190.3" y="806.2" font-size="17.5" font-style="normal" font-weight="normal" textLength="9.7" lengthAdjust="spacingAndGlyphs">2</text>
<text x="194.8" y="792.4" font-size="17.5" font-style="normal" font-weight="normal" textLength="42.0" lengthAdjust="spacingAndGlyphs">Intra</text>
<line x1="246.3" y1="792.50" x2="262.6" y2="792.50" stroke="#000" stroke-width="1.25"/>
<line x1="246.3" y1="797.70" x2="262.6" y2="797.70" stroke="#000" stroke-width="1.25"/>
<text x="270.8" y="800.0" font-size="24" font-style="normal" font-weight="normal" textLength="44.6" lengthAdjust="spacingAndGlyphs">80fs,</text>
<text x="324.0" y="800.0" font-size="24" font-style="italic" font-weight="normal" textLength="16.3" lengthAdjust="spacingAndGlyphs">T</text>
<text x="338.4" y="806.2" font-size="17.5" font-style="normal" font-weight="normal" textLength="9.8" lengthAdjust="spacingAndGlyphs">2</text>
<text x="342.6" y="792.4" font-size="17.5" font-style="normal" font-weight="normal" textLength="41.8" lengthAdjust="spacingAndGlyphs">Inter</text>
<line x1="393.4" y1="792.50" x2="409.6" y2="792.50" stroke="#000" stroke-width="1.25"/>
<line x1="393.4" y1="797.70" x2="409.6" y2="797.70" stroke="#000" stroke-width="1.25"/>
<text x="417.3" y="800.0" font-size="24" font-style="normal" font-weight="normal" textLength="39.6" lengthAdjust="spacingAndGlyphs">80fs</text>
<text x="245.8" y="1110.0" font-size="24" font-style="normal" font-weight="normal" textLength="60.0" lengthAdjust="spacingAndGlyphs">Auger</text>
<text x="314.7" y="1110.0" font-size="24" font-style="normal" font-weight="normal" textLength="99.3" lengthAdjust="spacingAndGlyphs">coefficient</text>
<text x="425.9" y="1110.0" font-size="24" font-style="normal" font-weight="normal" textLength="6.5" lengthAdjust="spacingAndGlyphs">(</text>
<text x="433.4" y="1110.0" font-size="24" font-style="normal" font-weight="normal" textLength="29.8" lengthAdjust="spacingAndGlyphs">cm</text>
<text x="463.8" y="1102.3" font-size="17" font-style="normal" font-weight="normal" textLength="10.4" lengthAdjust="spacingAndGlyphs">4</text>
<text x="479.0" y="1110.0" font-size="24" font-style="normal" font-weight="normal" textLength="8.5" lengthAdjust="spacingAndGlyphs">s</text>
<text x="489.2" y="1102.3" font-size="17" font-style="normal" font-weight="normal" textLength="13.0" lengthAdjust="spacingAndGlyphs">&#8722;</text>
<text x="504.6" y="1102.3" font-size="17" font-style="normal" font-weight="normal" textLength="8.6" lengthAdjust="spacingAndGlyphs">1</text>
<text x="516.6" y="1110.0" font-size="24" font-style="normal" font-weight="normal" textLength="7.0" lengthAdjust="spacingAndGlyphs">)</text>
<path d="M600.9 1094.2 L612.1 1105.2 M612.1 1094.2 L600.9 1105.2" stroke="#000" stroke-width="1.15" fill="none"/>
<text x="616.4" y="1105.7" font-size="24" font-style="normal" font-weight="normal" textLength="22.8" lengthAdjust="spacingAndGlyphs">10</text>
<text x="640.6" y="1097.6" font-size="17" font-style="normal" font-weight="normal" textLength="13.0" lengthAdjust="spacingAndGlyphs">&#8722;</text>
<text x="655.4" y="1097.6" font-size="16.5" font-style="normal" font-weight="normal" textLength="19.8" lengthAdjust="spacingAndGlyphs">23</text>
<text transform="translate(23.0,950.7) rotate(-90)" font-size="24" font-style="italic" textLength="11.8" lengthAdjust="spacingAndGlyphs">J</text>
<text transform="translate(27.0,938.9) rotate(-90)" font-size="17" font-style="normal" textLength="18.3" lengthAdjust="spacingAndGlyphs">th</text>
<text transform="translate(23.0,909.1) rotate(-90)" font-size="24" font-style="normal" textLength="6.9" lengthAdjust="spacingAndGlyphs">(</text>
<text transform="translate(23.0,901.6) rotate(-90)" font-size="24" font-style="normal" textLength="17.0" lengthAdjust="spacingAndGlyphs">A</text>
<text transform="translate(23.0,880.4) rotate(-90)" font-size="24" font-style="normal" textLength="29.9" lengthAdjust="spacingAndGlyphs">cm</text>
<text transform="translate(14.9,848.3) rotate(-90)" font-size="17" font-style="normal" textLength="12.8" lengthAdjust="spacingAndGlyphs">&#8722;</text>
<text transform="translate(14.9,833.6) rotate(-90)" font-size="17" font-style="normal" textLength="9.0" lengthAdjust="spacingAndGlyphs">2</text>
<text transform="translate(23.0,822.0) rotate(-90)" font-size="24" font-style="normal" textLength="7.0" lengthAdjust="spacingAndGlyphs">)</text>
</svg>
</body></html>
